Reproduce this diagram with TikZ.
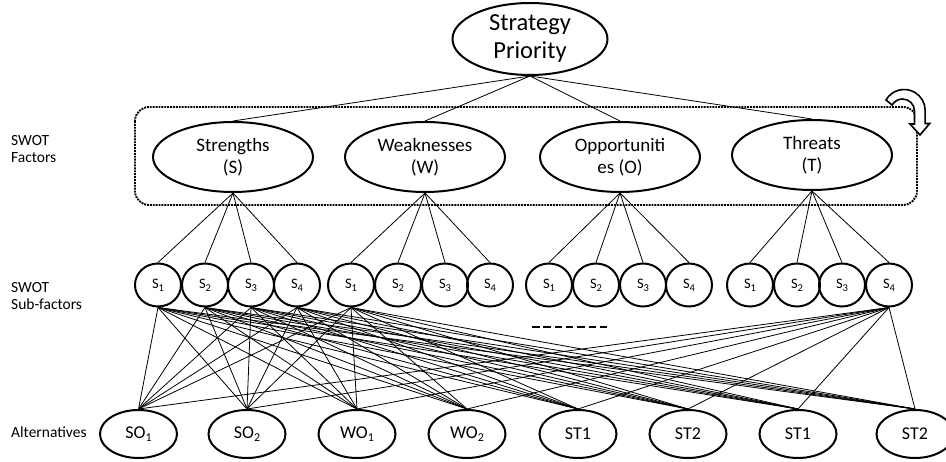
\documentclass[tikz,border=0pt]{standalone}
\usepackage{fontspec}
\setmainfont{Carlito}
\usetikzlibrary{shapes.geometric}
\newcommand{\idx}[2][10.5]{\raisebox{-0.4ex}{\fontsize{#1}{#1}\selectfont#2}}

\begin{document}
\begin{tikzpicture}[
    oval/.style={draw, ellipse, line width=2pt, inner sep=0pt, align=center},
    prioritybox/.style={oval, minimum width=155pt, minimum height=72pt, font=\fontsize{24.5}{28}\selectfont},
    factorbox/.style={oval, minimum width=160pt, minimum height=70pt, font=\fontsize{19}{22}\selectfont},
    subbox/.style={oval, minimum width=46pt, minimum height=43pt, font=\fontsize{14.5}{14.5}\selectfont},
    altbox/.style={oval, minimum width=77pt, minimum height=48pt, font=\fontsize{18}{18}\selectfont},
    rowlabel/.style={anchor=west, align=left, inner sep=0pt, font=\fontsize{15.5}{17.5}\selectfont},
    link/.style={line width=0.8pt}
]
    \useasboundingbox (0pt,0pt) rectangle (946pt,-462pt);
    % row labels
    \node[rowlabel] (lblF) at (11pt,-149pt) {SWOT\\Factors};
    \node[rowlabel] (lblS) at (11pt,-296pt) {SWOT\\Sub-factors};
    \node[rowlabel] (lblA) at (11pt,-432pt) {Alternatives};
    % dotted frame round the factors
    \draw[line width=1.9pt, densely dotted, rounded corners=14pt] (135pt,-107pt) rectangle (917pt,-205pt);
    % goal and factors
    \node[prioritybox] (prio) at (530pt,-39pt) {Strategy\\Priority};
    \node[factorbox] (fS) at (233pt,-157pt) {Strengths\\(S)};
    \node[factorbox] (fW) at (425pt,-157pt) {Weaknesses\\(W)};
    \node[factorbox] (fO) at (620pt,-157pt) {Opportuniti\\es (O)};
    \node[factorbox] (fT) at (812pt,-155pt) {Threats\\(T)};
    % sub-factors
    \foreach \x [count=\k] in {158,205,251,297}
        \node[subbox] (s1\k) at (\x pt,-285pt) {S\idx{\k}};
    \foreach \x [count=\k] in {351,398,445,490}
        \node[subbox] (s2\k) at (\x pt,-285pt) {S\idx{\k}};
    \foreach \x [count=\k] in {549,596,643,689}
        \node[subbox] (s3\k) at (\x pt,-285pt) {S\idx{\k}};
    \foreach \x [count=\k] in {750,797,842,889}
        \node[subbox] (s4\k) at (\x pt,-285pt) {S\idx{\k}};
    % alternatives
    \node[altbox] (a1) at (138.5pt,-434pt) {SO\idx[12]{1}};
    \node[altbox] (a2) at (247pt,-434pt) {SO\idx[12]{2}};
    \node[altbox] (a3) at (357pt,-434pt) {WO\idx[12]{1}};
    \node[altbox] (a4) at (467pt,-434pt) {WO\idx[12]{2}};
    \node[altbox] (a5) at (578pt,-434pt) {ST1};
    \node[altbox] (a6) at (688pt,-434pt) {ST2};
    \node[altbox] (a7) at (798pt,-434pt) {ST1};
    \node[altbox] (a8) at (915pt,-434pt) {ST2};
    % links
    \foreach \f in {fS,fW,fO,fT}
        \draw[link] (prio.south) -- (\f.north);
    \foreach \f/\g in {fS/1,fW/2,fO/3,fT/4}
        \foreach \k in {1,...,4}
            \draw[link] (\f.south) -- (s\g\k.north);
    \foreach \i in {1,...,8}
        \foreach \s in {s11,s12,s13,s14,s21,s44}
            \draw[link] (\s.south) -- (a\i.north);
    % omitted links
    \draw[line width=1.7pt, dash pattern=on 7.5pt off 3.8pt] (532pt,-327pt) -- (608pt,-327pt);
    % loop arrow
    \draw[line width=1.6pt, fill=white, line join=miter] (886pt,-100pt)
        arc[start angle=150, end angle=0, radius=21pt] -- ++(0pt,-13pt) -- ++(4.5pt,0pt)
        -- (920pt,-135pt) -- (910pt,-124pt) -- ++(4.5pt,0pt) -- ++(0pt,13pt)
        arc[start angle=0, end angle=150, radius=12pt] -- cycle;
\end{tikzpicture}
\end{document}
